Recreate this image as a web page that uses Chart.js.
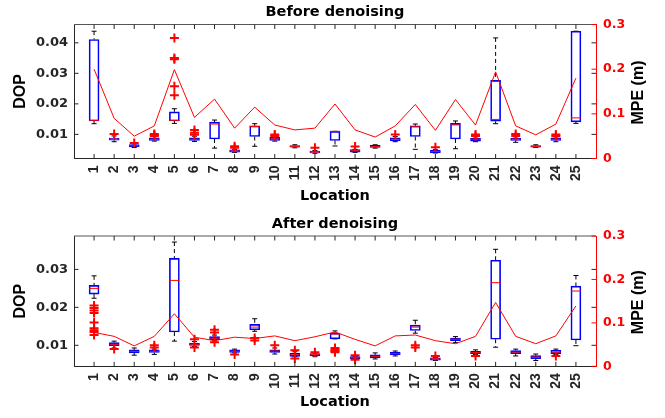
<!DOCTYPE html>
<html>
<head>
<meta charset="utf-8">
<script src="https://cdn.jsdelivr.net/npm/chart.js@4.4.1/dist/chart.umd.min.js"></script>
<style>
  body { margin: 0; background: #fff; }
  #wrap { position: relative; width: 665px; height: 418px; }
  canvas { position: absolute; left: 0; }
</style>
</head>
<body>
<div id="wrap">
  <canvas id="before" width="665" height="206" style="top:0"></canvas>
  <canvas id="after" width="665" height="212" style="top:206px"></canvas>
</div>
<script>
// Locations 1..25
const locations = [1, 2, 3, 4, 5, 6, 7, 8, 9, 10, 11, 12, 13, 14, 15, 16, 17, 18, 19, 20, 21, 22, 23, 24, 25];

// Before denoising: box stats (DOP)
const beforeQ1  = [0.0144, 0.0081, 0.0059, 0.0080, 0.0144, 0.0080, 0.0085, 0.0042, 0.0093, 0.0080, 0.0058, 0.0039, 0.0080, 0.0042, 0.0057, 0.0079, 0.0093, 0.0040, 0.0085, 0.0078, 0.0143, 0.0080, 0.0058, 0.0080, 0.0141];
const beforeMed = [0.0146, 0.0084, 0.0063, 0.0084, 0.0146, 0.0084, 0.0134, 0.0045, 0.0126, 0.0085, 0.0060, 0.0042, 0.0110, 0.0046, 0.0060, 0.0084, 0.0125, 0.0044, 0.0131, 0.0084, 0.0149, 0.0084, 0.0060, 0.0084, 0.0154];
const beforeQ3  = [0.0411, 0.0088, 0.0067, 0.0089, 0.0174, 0.0089, 0.0140, 0.0049, 0.0128, 0.0090, 0.0063, 0.0045, 0.0110, 0.0050, 0.0064, 0.0089, 0.0128, 0.0048, 0.0136, 0.0087, 0.0277, 0.0087, 0.0063, 0.0089, 0.0438];
const beforeLo  = [0.0135, 0.0076, 0.0057, 0.0078, 0.0136, 0.0077, 0.0055, 0.0041, 0.0061, 0.0078, 0.0056, 0.0038, 0.0062, 0.0041, 0.0055, 0.0076, 0.0051, 0.0039, 0.0053, 0.0076, 0.0135, 0.0074, 0.0057, 0.0076, 0.0136];
const beforeHi  = [0.0438, 0.0095, 0.0069, 0.0093, 0.0184, 0.0094, 0.0147, 0.0051, 0.0135, 0.0093, 0.0066, 0.0047, 0.0110, 0.0051, 0.0066, 0.0093, 0.0134, 0.0050, 0.0144, 0.0092, 0.0416, 0.0092, 0.0066, 0.0092, 0.0438];
const beforeOut = [[], [0.0101], [0.0072], [0.0101, 0.0098, 0.0095], [0.0416, 0.0350, 0.0346, 0.0258, 0.0228],
  [0.0114, 0.0105, 0.0099], [], [0.0061, 0.0056], [], [0.0100, 0.0095], [], [0.0056], [], [0.0060], [],
  [0.0100], [], [0.0058], [], [0.0100, 0.0095], [], [0.0101, 0.0095], [], [0.0100, 0.0095], []];
const beforeMpe = [0.200, 0.090, 0.050, 0.073, 0.199, 0.092, 0.133, 0.068, 0.115, 0.075, 0.064, 0.068, 0.122, 0.064, 0.048, 0.073, 0.121, 0.063, 0.132, 0.075, 0.194, 0.073, 0.053, 0.077, 0.180];

// After denoising: box stats (DOP)
const afterQ1  = [0.0235, 0.0099, 0.0080, 0.0081, 0.0135, 0.0100, 0.0115, 0.0081, 0.0141, 0.0081, 0.0071, 0.0072, 0.0117, 0.0064, 0.0067, 0.0075, 0.0139, 0.0061, 0.0112, 0.0078, 0.0116, 0.0078, 0.0065, 0.0078, 0.0114];
const afterMed = [0.0250, 0.0103, 0.0084, 0.0084, 0.0271, 0.0103, 0.0119, 0.0084, 0.0148, 0.0085, 0.0075, 0.0075, 0.0130, 0.0067, 0.0071, 0.0078, 0.0148, 0.0064, 0.0116, 0.0081, 0.0265, 0.0082, 0.0069, 0.0082, 0.0243];
const afterQ3  = [0.0258, 0.0107, 0.0088, 0.0088, 0.0329, 0.0106, 0.0123, 0.0088, 0.0155, 0.0088, 0.0079, 0.0078, 0.0132, 0.0070, 0.0075, 0.0082, 0.0153, 0.0067, 0.0119, 0.0084, 0.0324, 0.0086, 0.0073, 0.0087, 0.0256];
const afterLo  = [0.0224, 0.0093, 0.0074, 0.0076, 0.0111, 0.0097, 0.0111, 0.0080, 0.0137, 0.0077, 0.0070, 0.0070, 0.0117, 0.0063, 0.0064, 0.0072, 0.0132, 0.0060, 0.0107, 0.0076, 0.0095, 0.0072, 0.0060, 0.0076, 0.0099];
const afterHi  = [0.0283, 0.0111, 0.0093, 0.0090, 0.0372, 0.0110, 0.0127, 0.0090, 0.0170, 0.0093, 0.0083, 0.0080, 0.0138, 0.0071, 0.0080, 0.0085, 0.0166, 0.0068, 0.0123, 0.0088, 0.0353, 0.0090, 0.0077, 0.0090, 0.0284];
const afterOut = [[0.0205, 0.0198, 0.0192, 0.0185, 0.0160, 0.0145, 0.0140, 0.0135, 0.0127], [0.0090], [], [0.0094, 0.0100], [],
  [0.0116, 0.0094], [0.0141, 0.0134, 0.0108], [0.0076], [0.0119, 0.0113], [0.0100], [0.0087, 0.0065], [0.0082],
  [0.0093, 0.0088, 0.0085, 0.0082], [0.0074, 0.0062], [], [], [0.0100, 0.0094], [0.0072], [], [0.0072], [], [], [], [0.0072], []];
const afterMpe = [0.078, 0.069, 0.047, 0.069, 0.121, 0.067, 0.059, 0.067, 0.064, 0.070, 0.059, 0.068, 0.079, 0.062, 0.047, 0.070, 0.072, 0.059, 0.052, 0.069, 0.147, 0.069, 0.052, 0.070, 0.139];

// Tick labels
const beforeDopTicks = [0.01, 0.02, 0.03, 0.04];
const afterDopTicks = [0.01, 0.02, 0.03];
const mpeTicks = [0, 0.1, 0.2, 0.3];

const AXIS = '#262626';
const tickFont = { family: 'DejaVu Sans', weight: 'bold', size: 13 };

function boxParts(stats, title, titleY) {
    return {
        id: 'boxParts',
        beforeDatasetsDraw(chart) {
            const { ctx } = chart;
            const xs = chart.scales.x, ys = chart.scales.y;
            ctx.save();
            ctx.strokeStyle = '#000';
            ctx.lineWidth = 1;
            locations.forEach((loc, i) => {
                const x = xs.getPixelForValue(loc);
                ctx.setLineDash([4, 3]);
                ctx.beginPath();
                ctx.moveTo(x, ys.getPixelForValue(stats.hi[i]));
                ctx.lineTo(x, ys.getPixelForValue(stats.q3[i]));
                ctx.moveTo(x, ys.getPixelForValue(stats.q1[i]));
                ctx.lineTo(x, ys.getPixelForValue(stats.lo[i]));
                ctx.stroke();
                ctx.setLineDash([]);
                ctx.beginPath();
                [stats.hi[i], stats.lo[i]].forEach(v => {
                    const y = ys.getPixelForValue(v);
                    ctx.moveTo(x - 2.5, y);
                    ctx.lineTo(x + 2.5, y);
                });
                ctx.stroke();
            });
            ctx.restore();
        },
        afterDatasetDraw(chart, args) {
            if (args.meta.type !== 'bar') return;
            const { ctx } = chart;
            const xs = chart.scales.x, ys = chart.scales.y;
            ctx.save();
            ctx.strokeStyle = '#ff0000';
            ctx.lineWidth = 1;
            ctx.beginPath();
            locations.forEach((loc, i) => {
                const x = xs.getPixelForValue(loc), y = ys.getPixelForValue(stats.med[i]);
                ctx.moveTo(x - 5, y);
                ctx.lineTo(x + 5, y);
            });
            ctx.stroke();
            ctx.restore();
        },
        afterDraw(chart) {
            const { ctx, chartArea: a } = chart;
            const xs = chart.scales.x, ys = chart.scales.y, y2 = chart.scales.y2;
            ctx.save();
            ctx.lineWidth = 1;
            // top box edge
            ctx.strokeStyle = '#555';
            ctx.beginPath();
            ctx.moveTo(a.left, a.top);
            ctx.lineTo(a.right, a.top);
            ctx.stroke();
            // inward tick marks
            ctx.strokeStyle = AXIS;
            ctx.beginPath();
            locations.forEach(loc => {
                const x = xs.getPixelForValue(loc);
                ctx.moveTo(x, a.top); ctx.lineTo(x, a.top + 4.5);
                ctx.moveTo(x, a.bottom); ctx.lineTo(x, a.bottom - 4.5);
            });
            ys.ticks.forEach(t => {
                const y = ys.getPixelForValue(t.value);
                ctx.moveTo(a.left, y); ctx.lineTo(a.left + 4.5, y);
                ctx.moveTo(a.right, y); ctx.lineTo(a.right - 4.5, y);
            });
            ctx.stroke();
            ctx.strokeStyle = '#ff0000';
            ctx.beginPath();
            y2.ticks.forEach(t => {
                const y = y2.getPixelForValue(t.value);
                ctx.moveTo(a.right, y); ctx.lineTo(a.right - 4.5, y);
            });
            ctx.stroke();
            // titles
            ctx.fillStyle = '#000';
            ctx.textAlign = 'center';
            ctx.textBaseline = 'middle';
            ctx.font = 'bold 14.5px "DejaVu Sans"';
            ctx.fillText(title, (a.left + a.right) / 2, titleY);
            ctx.translate(chart.width - 26, (a.top + a.bottom) / 2 + 1);
            ctx.rotate(-Math.PI / 2);
            ctx.font = 'bold 16px "Liberation Sans"';
            ctx.fillText('MPE (m)', 0, 0);
            ctx.restore();
        }
    };
}

function makeChart(id, s) {
    const outPts = [];
    s.out.forEach((arr, i) => arr.forEach(v => outPts.push({ x: locations[i], y: v })));

    return new Chart(document.getElementById(id), {
        type: 'bar',
        data: {
            datasets: [{
                type: 'line',
                data: locations.map((x, i) => ({ x: x, y: s.mpe[i] })),
                yAxisID: 'y2',
                borderColor: '#ff0000',
                borderWidth: 1,
                pointRadius: 0,
                tension: 0,
                order: 0
            }, {
                type: 'scatter',
                data: outPts,
                yAxisID: 'y',
                pointStyle: 'cross',
                pointRadius: 4.5,
                borderColor: '#ff0000',
                backgroundColor: '#ff0000',
                borderWidth: 2,
                order: 1
            }, {
                type: 'bar',
                data: locations.map((x, i) => ({ x: x, y: [s.q1[i], s.q3[i]] })),
                yAxisID: 'y',
                borderColor: '#0000ff',
                backgroundColor: 'rgba(0,0,0,0)',
                borderWidth: 1,
                borderSkipped: false,
                barThickness: 10,
                order: 2
            }]
        },
        options: {
            responsive: false,
            animation: false,
            layout: { padding: { top: s.top, left: 0, right: 0, bottom: 0 } },
            plugins: {
                legend: { display: false },
                tooltip: { enabled: false }
            },
            scales: {
                x: {
                    type: 'linear',
                    min: 0,
                    max: 26,
                    offset: false,
                    grid: { display: false, drawTicks: false },
                    border: { color: AXIS },
                    afterBuildTicks: sc => { sc.ticks = locations.map(v => ({ value: v })); },
                    afterFit: sc => { sc.height = s.xHeight; },
                    ticks: {
                        autoSkip: false,
                        minRotation: 90,
                        maxRotation: 90,
                        padding: 7,
                        color: AXIS,
                        font: { family: 'Liberation Sans', weight: 'bold', size: 14 },
                        callback: v => String(v)
                    },
                    title: {
                        display: true,
                        text: 'Location',
                        color: '#000',
                        font: { family: 'DejaVu Sans', weight: 'bold', size: 14.5 },
                        padding: { top: 0, bottom: s.locPad }
                    }
                },
                y: {
                    position: 'left',
                    min: s.yMin,
                    max: s.yMax,
                    grid: { display: false, drawTicks: false },
                    border: { color: AXIS },
                    afterBuildTicks: sc => { sc.ticks = s.dopTicks.map(v => ({ value: v })); },
                    afterFit: sc => { sc.width = 74; },
                    ticks: {
                        padding: 6,
                        color: AXIS,
                        font: tickFont,
                        callback: v => v.toFixed(2)
                    },
                    title: {
                        display: true,
                        text: 'DOP',
                        color: '#000',
                        font: { family: 'Liberation Sans', weight: 'bold', size: 16 },
                        padding: { top: 11.4, bottom: 0 }
                    }
                },
                y2: {
                    position: 'right',
                    min: 0,
                    max: 0.3,
                    grid: { display: false, drawTicks: false },
                    border: { color: '#ff0000' },
                    afterBuildTicks: sc => { sc.ticks = mpeTicks.map(v => ({ value: v })); },
                    afterFit: sc => { sc.width = 69; },
                    ticks: {
                        padding: 7,
                        color: '#ff0000',
                        font: { family: 'DejaVu Sans', weight: 'bold', size: 12.5 },
                        callback: v => (v === 0 ? '0' : v.toFixed(1))
                    }
                }
            }
        },
        plugins: [boxParts(s, s.title, s.titleY)]
    });
}

makeChart('before', {
    q1: beforeQ1, med: beforeMed, q3: beforeQ3, lo: beforeLo, hi: beforeHi,
    out: beforeOut, mpe: beforeMpe, dopTicks: beforeDopTicks,
    yMin: 0.0021, yMax: 0.046,
    top: 24.5, xHeight: 47.5, locPad: 1.3,
    title: 'Before denoising', titleY: 12
});

makeChart('after', {
    q1: afterQ1, med: afterMed, q3: afterQ3, lo: afterLo, hi: afterHi,
    out: afterOut, mpe: afterMpe, dopTicks: afterDopTicks,
    yMin: 0.00447, yMax: 0.0388,
    top: 30, xHeight: 51.7, locPad: 6.8,
    title: 'After denoising', titleY: 17.8
});
</script>
</body>
</html>
